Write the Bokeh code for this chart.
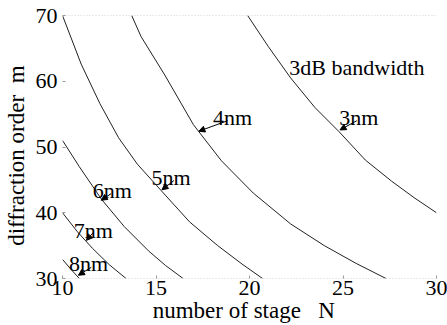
from bokeh.plotting import figure
from bokeh.models import Range1d, FixedTicker, Span, Arrow, NormalHead
from bokeh.core.properties import value
from bokeh.embed import file_html
from bokeh.resources import INLINE

# ---- data ----
x_ticks = [10, 15, 20, 25, 30]
y_ticks = [30, 40, 50, 60, 70]

bw3_N = [19.9, 21.0, 22.2, 23.5, 24.8, 26.2, 27.6, 28.8, 30.0]
bw3_m = [70.0, 65.3, 60.5, 56.0, 52.3, 48.0, 44.8, 42.3, 40.0]

bw4_N = [13.7, 14.2, 15.5, 17.0, 18.5, 20.2, 22.2, 24.0, 25.7, 27.3]
bw4_m = [70.0, 66.8, 60.8, 53.4, 47.9, 43.0, 38.3, 35.0, 32.3, 30.0]

bw5_N = [10.0, 11.0, 12.0, 13.0, 14.0, 15.3, 16.8, 18.3, 19.6, 20.7]
bw5_m = [70.0, 62.6, 56.6, 51.4, 47.4, 43.3, 38.6, 35.0, 32.2, 30.0]

bw6_N = [10.0, 10.9, 12.1, 13.3, 14.6, 15.5, 16.45]
bw6_m = [51.0, 47.0, 42.0, 37.9, 34.2, 32.0, 30.0]

bw7_N = [10.0, 10.8, 11.6, 12.5, 13.4]
bw7_m = [40.0, 37.1, 34.6, 32.1, 30.0]

bw8_N = [10.0, 10.45, 10.9]
bw8_m = [32.9, 31.4, 30.0]

curves = [(bw3_N, bw3_m), (bw4_N, bw4_m), (bw5_N, bw5_m),
          (bw6_N, bw6_m), (bw7_N, bw7_m), (bw8_N, bw8_m)]

label_text = ["3nm", "4nm", "5nm", "6nm", "7nm", "8nm"]
label_N = [25.85, 19.1, 15.8, 12.66, 11.65, 11.4]
label_m = [54.5, 54.5, 45.4, 43.4, 37.3, 32.3]

arrow_N0 = [25.74, 18.83, 15.96, 12.6, 11.65, 11.54]
arrow_m0 = [54.0, 54.0, 44.9, 42.9, 37.0, 31.7]
arrow_N1 = [24.84, 17.29, 15.32, 12.07, 11.28, 10.85]
arrow_m1 = [52.6, 52.4, 43.5, 41.9, 35.8, 30.5]

title_text = "3dB bandwidth"
title_N = 22.13
title_m = 62.1

NB = "\u00a0"
x_title = "number of stage" + NB * 3 + "N" + NB * 2
y_title = "diffraction order" + NB * 2 + "m" + NB * 3

FONT = "'Liberation Serif', 'Times New Roman', serif"

p = figure(width=447, height=325, output_backend="svg", toolbar_location=None,
           x_range=Range1d(10, 30), y_range=Range1d(30, 70),
           min_border_left=61, min_border_right=11, min_border_top=15, min_border_bottom=47)
p.outline_line_color = None
p.grid.visible = False
p.background_fill_color = "white"
p.border_fill_color = "white"

for ax in (p.xaxis[0], p.yaxis[0]):
    ax.axis_line_color = None
    ax.major_tick_in = 3
    ax.major_tick_out = 0
    ax.major_tick_line_color = "#999999"
    ax.minor_tick_line_color = None
    ax.major_label_text_font = FONT
    ax.major_label_text_font_size = "22px"
    ax.major_label_text_color = "black"
    ax.axis_label_text_font = FONT
    ax.axis_label_text_font_style = "normal"
    ax.axis_label_text_color = "black"
    ax.axis_label_text_font_size = "23px"
p.xaxis[0].ticker = FixedTicker(ticks=x_ticks)
p.yaxis[0].ticker = FixedTicker(ticks=y_ticks)
p.xaxis[0].major_label_standoff = 2
p.yaxis[0].major_label_standoff = 5
p.xaxis[0].axis_label = x_title
p.yaxis[0].axis_label = y_title
p.xaxis[0].axis_label_standoff = 0
p.yaxis[0].axis_label_standoff = 4

p.add_layout(Span(location=70, dimension="width", line_color="#aaaaaa",
                  line_dash="1 2", line_width=1))
p.add_layout(Span(location=30, dimension="width", line_color="#aaaaaa",
                  line_dash="1 2", line_width=1))

for cN, cm in curves:
    p.line(cN, cm, line_color="#222222", line_width=1)

p.text(x=label_N, y=label_m, text=label_text, text_font=value(FONT),
       text_font_size="22px", text_align="center", text_baseline="alphabetic",
       text_color="black")
p.text(x=[title_N], y=[title_m], text=[title_text], text_font=value(FONT),
       text_font_size="22px", text_align="left", text_baseline="alphabetic",
       text_color="black")

for i in range(len(arrow_N0)):
    p.add_layout(Arrow(end=NormalHead(size=6, fill_color="black", line_color="black"),
                       x_start=arrow_N0[i], y_start=arrow_m0[i],
                       x_end=arrow_N1[i], y_end=arrow_m1[i],
                       line_color="black", line_width=1))

open("out.html", "w").write(file_html(p, INLINE))
